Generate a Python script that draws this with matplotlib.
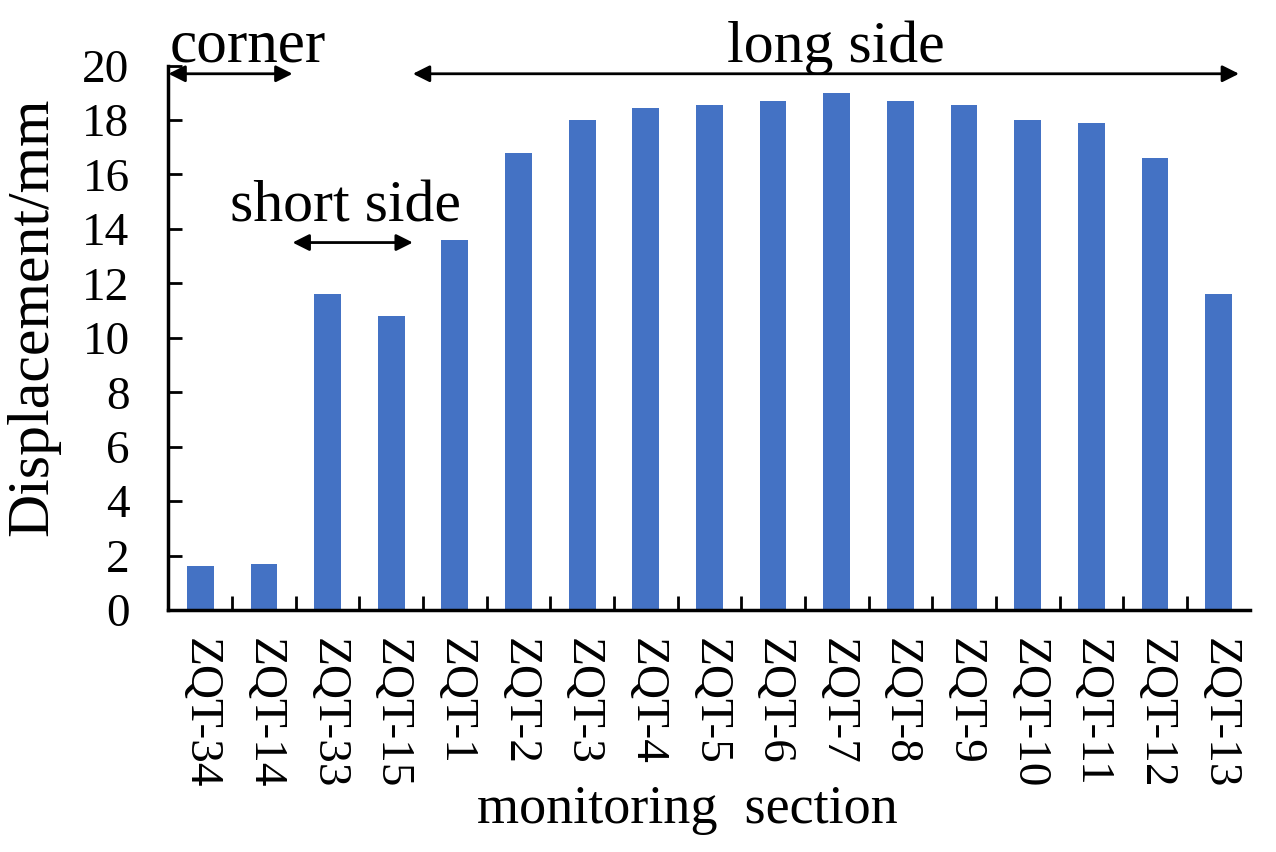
import matplotlib
matplotlib.use('Agg')
from matplotlib import pyplot as plt
import numpy as np

sections = ['ZQT-34', 'ZQT-14', 'ZQT-33', 'ZQT-15', 'ZQT-1', 'ZQT-2', 'ZQT-3', 'ZQT-4',
            'ZQT-5', 'ZQT-6', 'ZQT-7', 'ZQT-8', 'ZQT-9', 'ZQT-10', 'ZQT-11', 'ZQT-12', 'ZQT-13']
displacement = [1.6, 1.7, 11.6, 10.8, 13.6, 16.8, 18.0, 18.45, 18.55, 18.7, 19.0,
                18.7, 18.55, 18.0, 17.9, 16.6, 11.6]

plt.rcParams['font.family'] = ['Liberation Serif', 'DejaVu Serif']

fig = plt.figure(figsize=(12.76, 8.52), dpi=100)
ax = fig.add_axes([0.132, 0.284, 0.848, 0.639])

x = np.arange(len(sections))
ax.bar(x, displacement, width=0.42, color='#4472C4')

ax.set_xlim(-0.5, len(sections) - 0.5)
ax.set_ylim(0, 20)
ax.set_yticks(range(0, 21, 2))
ax.set_xticks(x)
ax.set_xticklabels(sections, rotation=270, fontsize=34)
ax.set_xticks(np.arange(0.5, len(sections) - 1, 1), minor=True)
ax.tick_params(axis='x', which='major', length=0, pad=20)
ax.tick_params(axis='x', which='minor', direction='in', length=10, width=2)
ax.tick_params(axis='y', direction='in', length=10, width=2, labelsize=34, pad=28)

for side in ['top', 'right']:
    ax.spines[side].set_visible(False)
for side in ['left', 'bottom']:
    ax.spines[side].set_linewidth(2.5)

ax.set_ylabel('Displacement/mm', fontsize=43)
ax.yaxis.set_label_coords(-0.10, 0.539)
ax.set_xlabel('monitoring  section', fontsize=39)
ax.xaxis.set_label_coords(0.48, -0.32)

arrow = dict(arrowstyle='<|-|>', color='black', lw=2, mutation_scale=25, shrinkA=0, shrinkB=0)
ax.annotate('', xy=(-0.5, 19.7), xytext=(1.45, 19.7), arrowprops=arrow, annotation_clip=False)
ax.annotate('', xy=(3.34, 19.7), xytext=(16.32, 19.7), arrowprops=arrow, annotation_clip=False)
ax.annotate('', xy=(1.45, 13.5), xytext=(3.34, 13.5), arrowprops=arrow, annotation_clip=False)

ax.text(0.75, 20.15, 'corner', fontsize=44, ha='center', va='baseline')
ax.text(9.98, 20.15, 'long side', fontsize=43, ha='center', va='baseline')
ax.text(2.28, 14.26, 'short side', fontsize=43, ha='center', va='baseline')

fig.savefig('out.png', dpi=100)
